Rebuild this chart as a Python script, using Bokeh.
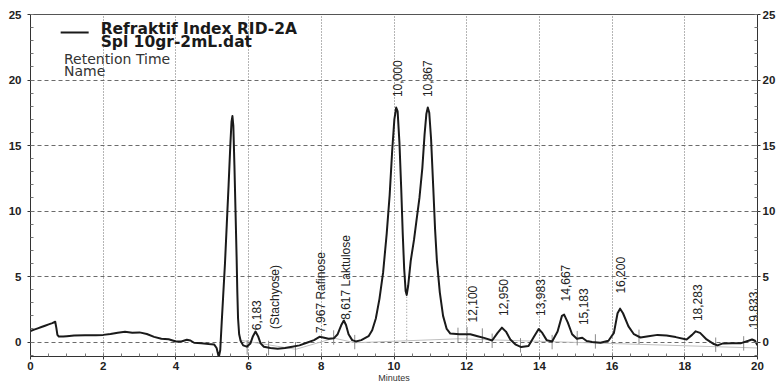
from math import pi
from bokeh.plotting import figure
from bokeh.models import (Range1d, LinearAxis, SingleIntervalTicker, Label,
                          ColumnDataSource, BoxAnnotation)
from bokeh.core.properties import value
from bokeh.embed import file_html
from bokeh.resources import INLINE

# ---------------- data ----------------
time_min = [0.00, 0.10, 0.20, 0.30, 0.40, 0.50, 0.60, 0.68, 0.71, 0.74, 0.78, 0.90,
            1.00, 1.20, 1.50, 1.80, 2.00, 2.20, 2.40, 2.60, 2.80, 3.00, 3.20, 3.40,
            3.60, 3.80, 4.00, 4.15, 4.30, 4.40, 4.50, 4.70, 4.90, 5.05, 5.12, 5.18,
            5.22, 5.26, 5.30, 5.35, 5.40, 5.45, 5.50, 5.53, 5.555, 5.58, 5.61, 5.64,
            5.67, 5.69, 5.71, 5.74, 5.78, 5.85, 5.95, 6.05, 6.12, 6.19, 6.26, 6.33,
            6.42, 6.60, 6.80, 7.00, 7.20, 7.40, 7.60, 7.80, 7.95, 8.05, 8.20, 8.35,
            8.45, 8.55, 8.62, 8.68, 8.75, 8.85, 8.95, 9.10, 9.30, 9.40, 9.50, 9.60,
            9.70, 9.80, 9.88, 9.95, 10.01, 10.06, 10.10, 10.15, 10.20, 10.24, 10.28,
            10.32, 10.35, 10.39, 10.46, 10.55, 10.62, 10.70, 10.78, 10.84, 10.89,
            10.93, 10.97, 11.02, 11.08, 11.13, 11.18, 11.26, 11.35, 11.45, 11.55,
            11.80, 12.10, 12.30, 12.50, 12.70, 12.85, 12.97, 13.08, 13.20, 13.35,
            13.50, 13.70, 13.85, 13.98, 14.08, 14.20, 14.35, 14.50, 14.62, 14.68,
            14.78, 14.90, 15.03, 15.18, 15.30, 15.45, 15.68, 15.90, 16.05, 16.15,
            16.22, 16.30, 16.45, 16.60, 16.78, 17.00, 17.25, 17.50, 17.75, 18.05,
            18.20, 18.30, 18.42, 18.60, 18.80, 18.90, 19.05, 19.30, 19.55, 19.75,
            19.85, 19.93, 20.00]
signal = [0.85, 0.95, 1.05, 1.15, 1.25, 1.35, 1.45, 1.55, 1.10, 0.55, 0.42, 0.42,
          0.45, 0.50, 0.52, 0.52, 0.55, 0.62, 0.72, 0.78, 0.72, 0.74, 0.62, 0.40,
          0.25, 0.22, 0.05, 0.05, 0.18, 0.12, -0.05, -0.08, -0.15, -0.18, -0.45, -1.15,
          -0.60, 1.50, 3.50, 6.00, 9.00, 12.00, 15.20, 16.80, 17.25, 16.50, 13.50, 10.00,
          6.50, 3.80, 1.80, 0.60, 0.10, -0.25, -0.35, -0.10, 0.45, 0.80, 0.45, -0.10,
          -0.35, -0.45, -0.50, -0.45, -0.35, -0.25, -0.05, 0.15, 0.40, 0.35, 0.25, 0.30,
          0.60, 1.30, 1.65, 1.30, 0.60, 0.15, 0.05, 0.15, 0.45, 0.90, 1.80, 3.30,
          5.30, 8.30, 11.20, 14.60, 17.00, 17.90, 17.60, 15.20, 11.60, 8.30, 5.60,
          3.90, 3.60, 4.30, 6.20, 7.80, 9.30, 11.00, 13.30, 15.80, 17.40,
          17.90, 17.50, 15.50, 11.80, 8.60, 6.20, 3.80, 2.00, 1.00, 0.65,
          0.60, 0.60, 0.45, 0.30, 0.12, 0.70, 1.10, 0.80, 0.20, -0.20,
          -0.38, -0.30, 0.40, 1.00, 0.70, 0.15, 0.05, 0.80, 2.00, 2.10,
          1.50, 0.60, 0.25, 0.33, 0.08, 0.00, -0.05, 0.10, 0.70, 2.20,
          2.55, 2.20, 1.20, 0.60, 0.35, 0.45, 0.55, 0.50, 0.38, 0.20,
          0.55, 0.82, 0.70, 0.20, -0.15, -0.25, -0.10, -0.08, -0.08, 0.10,
          0.20, 0.10, -0.25]

# integration baseline and peak start/end markers
baseline_t = [5.75, 7.30, 8.35, 8.92, 11.76, 20.00]
baseline_y = [0.15, -0.55, 0.30, -0.05, 0.25, -0.45]
marker_t = [5.96, 6.55, 7.29, 8.34, 8.92, 11.76, 12.01, 12.43, 12.70, 13.48,
            14.35, 15.04, 15.54, 16.74, 18.85, 19.62]
marker_y = [-0.40, -0.45, -0.55, 0.35, 0.00, 0.55, 0.60, 0.50, 0.10, -0.25,
            0.00, 0.30, 0.05, 0.40, -0.20, -0.10]
valley_t = [10.35]
valley_top = [3.60]
valley_bottom = [-0.05]

# peak labels
label_text = ["6,183", "(Stachyose)", "7,967  Rafinose", "8,617  Laktulose",
              "10,000", "10,867", "12,100", "12,950", "13,983", "14,667",
              "15,183", "16,200", "18,283", "19,833"]
label_t = [6.22, 6.74, 7.98, 8.67, 10.09, 10.93, 12.15, 13.02, 14.03, 14.72,
           15.22, 16.23, 18.34, 19.90]
label_y = [0.90, 1.00, 0.70, 1.70, 18.70, 18.70, 1.50, 2.00, 2.00, 3.10,
           1.30, 3.70, 1.60, 1.05]

x_tick_interval = 2
y_tick_interval = 5

FONT = "Liberation Sans"
HFONT = "DejaVu Sans"
INK = "#1a1a1a"

p = figure(width=782, height=385, x_range=Range1d(0, 20), y_range=Range1d(-1.1, 25),
           output_backend="svg", toolbar_location=None,
           min_border_left=30, min_border_top=14, min_border_right=25,
           min_border_bottom=28)
p.background_fill_color = "white"
p.border_fill_color = "white"
p.outline_line_color = "#555555"
p.outline_line_width = 1

xticker = SingleIntervalTicker(interval=x_tick_interval, num_minor_ticks=4)
yticker = SingleIntervalTicker(interval=y_tick_interval, num_minor_ticks=5)
p.xaxis.ticker = xticker
p.yaxis.ticker = yticker
p.xgrid.ticker = xticker
p.ygrid.ticker = yticker
p.xgrid.grid_line_color = "#6b6b6b"
p.xgrid.grid_line_dash = "1 2"
p.ygrid.grid_line_color = "#6b6b6b"
p.ygrid.grid_line_dash = "4 3"

right_axis = LinearAxis(ticker=yticker)
p.add_layout(right_axis, "right")

for ax in [p.xaxis[0], p.yaxis[0], right_axis]:
    ax.axis_line_color = "#333333"
    ax.major_tick_line_color = "#333333"
    ax.minor_tick_line_color = "#777777"
    ax.major_tick_out = 3
    ax.major_tick_in = 0
    ax.minor_tick_out = 0
    ax.minor_tick_in = 3
    ax.major_label_text_font = FONT
    ax.major_label_text_font_size = "11.5px"
    ax.major_label_text_font_style = "bold"
    ax.major_label_text_color = "#222222"
p.xaxis[0].major_label_standoff = 2
p.yaxis[0].major_label_standoff = 6
right_axis.major_label_standoff = 2

p.xaxis[0].axis_label = "Minutes"
p.xaxis[0].axis_label_standoff = 0
p.xaxis[0].axis_label_text_font = FONT
p.xaxis[0].axis_label_text_font_size = "9px"
p.xaxis[0].axis_label_text_font_style = "normal"
p.xaxis[0].axis_label_text_color = "#333333"

# integration baseline, markers, valley drop line
p.line(baseline_t, baseline_y, line_color="#c0c0c0", line_width=1)
p.segment(x0=marker_t, y0=[v - 0.55 for v in marker_y], x1=marker_t,
          y1=[v + 0.55 for v in marker_y], line_color="#8a8a8a", line_width=1)
p.segment(x0=valley_t, y0=valley_bottom, x1=valley_t, y1=valley_top,
          line_color="#8a8a8a", line_width=1, line_dash="1 2")

# chromatogram trace
p.line(time_min, signal, line_color=INK, line_width=2.0, line_join="round")

# header: legend sample line and texts
p.add_layout(BoxAnnotation(left=0.83, right=1.60, bottom=23.55, top=23.70,
                           fill_color=INK, fill_alpha=1, line_color=None))
p.add_layout(Label(x=1.93, y=23.87, text="Refraktif Index RID-2A", text_font=HFONT,
                   text_font_style="bold", text_font_size="15.5px", text_color=INK,
                   text_baseline="alphabetic"))
p.add_layout(Label(x=1.93, y=22.93, text="Spl 10gr-2mL.dat", text_font=HFONT,
                   text_font_style="bold", text_font_size="15.5px", text_color=INK,
                   text_baseline="alphabetic"))
p.add_layout(Label(x=0.92, y=21.62, text="Retention Time", text_font=HFONT,
                   text_font_size="14px", text_color="#333333",
                   text_baseline="alphabetic"))
p.add_layout(Label(x=0.92, y=20.71, text="Name", text_font=HFONT,
                   text_font_size="14px", text_color="#333333",
                   text_baseline="alphabetic"))

# peak labels (rotated)
src = ColumnDataSource(dict(x=label_t, y=label_y, text=label_text))
p.text(x="x", y="y", text="text", source=src, angle=pi / 2, text_align="left",
       text_baseline="middle", text_font=value(FONT), text_font_size="12px",
       text_color="#222222")

open("out.html", "w").write(file_html(p, INLINE))
